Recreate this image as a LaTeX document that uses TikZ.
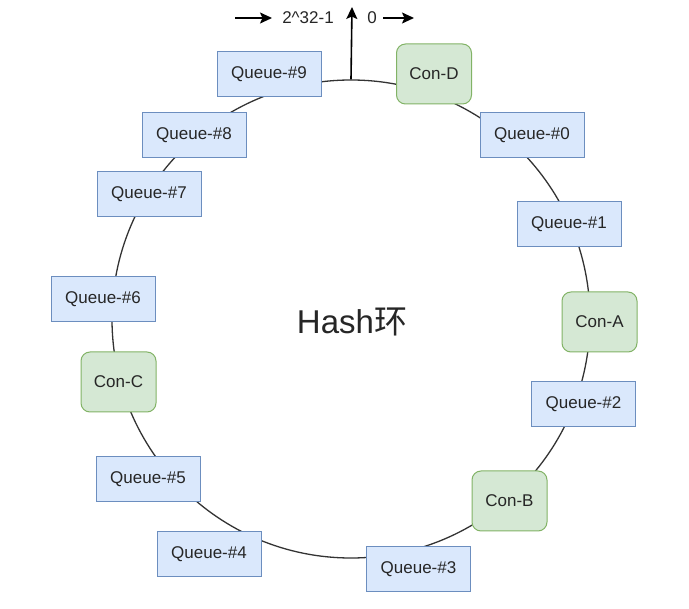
\documentclass[tikz,border=0pt]{standalone}
\usepackage{fontspec}
\setmainfont{Liberation Sans}
\newfontfamily\cjk{Noto Sans CJK SC}
\usetikzlibrary{arrows.meta}
\definecolor{qfill}{HTML}{DAE8FC}
\definecolor{qline}{HTML}{6C8EBF}
\definecolor{cfill}{HTML}{D5E8D4}
\definecolor{cline}{HTML}{82B366}
\definecolor{ringc}{HTML}{333333}
\tikzset{
  queue/.style={draw=qline, fill=qfill, line width=1pt, minimum width=104pt, minimum height=45pt, inner sep=0pt, font=\fontsize{17}{20}\selectfont, text=black!85},
  con/.style={draw=cline, fill=cfill, line width=1pt, rounded corners=9pt, minimum width=75pt, minimum height=60pt, inner sep=0pt, font=\fontsize{17}{20}\selectfont, text=black!85},
  arr/.style={-{Stealth[length=12pt,width=11pt,inset=2.5pt]}, line width=1.6pt, black},
  lbl/.style={font=\fontsize{17}{20}\selectfont, inner sep=0pt, text=black!85}
}
\begin{document}
\begin{tikzpicture}[x=1pt,y=-1pt]
\useasboundingbox (0,0) rectangle (689,609);
\node[draw=ringc, line width=1.3pt, circle, minimum size=478pt, inner sep=0pt] (ring) at (351,319) {};
\node[font=\fontsize{33}{40}\selectfont, text=black!85] (title) at (352,322) {Hash{\cjk 环}};
% top arrows
\coordinate (up) at (352,7);
\draw[arr] (ring.north) -- (up);
\coordinate (a1s) at (235,18);
\coordinate (a1e) at (272,18);
\draw[arr] (a1s) -- (a1e);
\node[lbl] (max) at (308,18) {2\^{}32-1};
\node[lbl] (zero) at (372,18) {0};
\coordinate (a2s) at (383,18);
\coordinate (a2e) at (414,18);
\draw[arr] (a2s) -- (a2e);
% nodes
\node[queue] (q9) at (269,74.5) {Queue-\#9};
\node[con]   (cd) at (434,74) {Con-D};
\node[queue] (q0) at (532,135) {Queue-\#0};
\node[queue] (q8) at (194,135) {Queue-\#8};
\node[queue] (q7) at (149,194) {Queue-\#7};
\node[queue] (q1) at (569,224) {Queue-\#1};
\node[queue] (q6) at (103,299) {Queue-\#6};
\node[con]   (ca) at (599.5,322) {Con-A};
\node[con]   (cc) at (118.5,382) {Con-C};
\node[queue] (q2) at (583.5,404) {Queue-\#2};
\node[queue] (q5) at (148,479) {Queue-\#5};
\node[con]   (cb) at (509.5,501) {Con-B};
\node[queue] (q4) at (209,554.5) {Queue-\#4};
\node[queue] (q3) at (418.5,569.5) {Queue-\#3};
\end{tikzpicture}
\end{document}
